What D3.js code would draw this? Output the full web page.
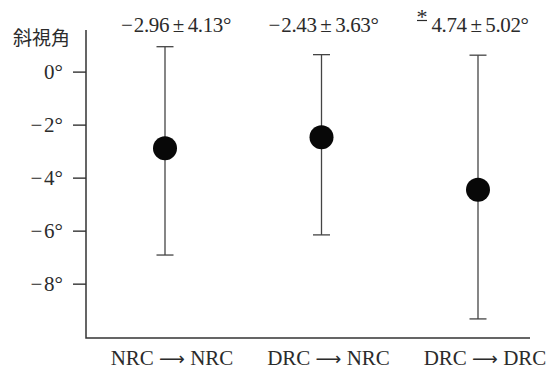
<!DOCTYPE html>
<html>
<head>
<meta charset="utf-8">
<script src="https://cdn.jsdelivr.net/npm/d3@7"></script>
<style>
  body { margin: 0; background: #fff; }
  svg text { fill: #2b2b2b; }
  .serif { font-family: "Liberation Serif", "DejaVu Serif", serif; }
</style>
</head>
<body>
<svg id="chart" width="554" height="369"></svg>
<script>
'use strict';

// groups and values
var groups = ['NRC→NRC', 'DRC→NRC', 'DRC→DRC'];
var fromLabels = ['NRC', 'DRC', 'DRC'];
var toLabels = ['NRC', 'NRC', 'DRC'];
var means = [-2.89, -2.48, -4.46];
var highs = [0.94, 0.64, 0.62];
var lows = [-6.92, -6.16, -9.33];
var meanText = ['\u2212\u200a2.96', '\u2212\u200a2.43', '4.74'];
var sdText = ['4.13', '3.63', '5.02'];
var significant = [false, false, true];
var yTicks = [0, -2, -4, -6, -8];

var svg = d3.select('#chart');
var axisLeftX = 86, axisBottomY = 338, axisTopY = 30, axisRightX = 530;
// horizontal nudge of the value labels above each bar
var labelShift = [11, 2, 2];

var y = d3.scaleLinear()
    .domain([-10.05, 1.57])
    .range([axisBottomY, axisTopY]);

var x = d3.scalePoint()
    .domain(groups)
    .range([165, 478]);

// y axis
var yAxis = d3.axisLeft(y)
    .tickValues(yTicks)
    .tickSize(13)
    .tickPadding(10)
    .tickFormat(function(d) { return (d < 0 ? '\u2212\u200a' : '') + Math.abs(d) + '\u00b0'; });

var gy = svg.append('g')
    .attr('transform', 'translate(' + axisLeftX + ',0)')
    .call(yAxis);
gy.select('.domain').remove();
gy.selectAll('line').attr('stroke', '#333').attr('stroke-width', 1.4);
gy.selectAll('text')
    .attr('class', 'serif')
    .attr('font-size', 21)
    .attr('fill', '#2b2b2b');

// frame: left and bottom axis lines
svg.append('path')
    .attr('d', 'M' + axisLeftX + ',' + axisTopY + 'V' + axisBottomY + 'H' + axisRightX)
    .attr('fill', 'none')
    .attr('stroke', '#333')
    .attr('stroke-width', 1.5);

svg.append('text')
    .attr('x', 13)
    .attr('y', 45)
    .attr('font-family', '"Noto Sans CJK JP", sans-serif')
    .attr('font-size', 19)
    .text('斜視角');

// error bars
var bars = svg.append('g').selectAll('g')
    .data(groups)
  .enter()
  .append('g')
    .attr('stroke', '#444')
    .attr('stroke-width', 1.3);

bars.append('line')
    .attr('x1', function(d) { return x(d); })
    .attr('x2', function(d) { return x(d); })
    .attr('y1', function(d, i) { return y(highs[i]); })
    .attr('y2', function(d, i) { return y(lows[i]); });

[highs, lows].forEach(function(arr) {
  bars.append('line')
      .attr('x1', function(d) { return x(d) - 8.5; })
      .attr('x2', function(d) { return x(d) + 8.5; })
      .attr('y1', function(d, i) { return y(arr[i]); })
      .attr('y2', function(d, i) { return y(arr[i]); });
});

// mean points
svg.append('g').selectAll('circle')
    .data(groups)
  .enter()
  .append('circle')
    .attr('cx', function(d) { return x(d); })
    .attr('cy', function(d, i) { return y(means[i]); })
    .attr('r', 12)
    .attr('fill', '#080808');

// mean ± sd labels
svg.append('g').selectAll('text')
    .data(groups)
  .enter()
  .append('text')
    .attr('class', 'serif')
    .attr('font-size', 21)
    .attr('letter-spacing', -0.4)
    .attr('text-anchor', 'middle')
    .attr('x', function(d, i) { return x(d) + labelShift[i]; })
    .attr('y', 32)
    .text(function(d, i) { return meanText[i] + '\u2009\u00b1\u2009' + sdText[i] + '\u00b0'; });

// asterisk over the minus sign for the significant group
groups.forEach(function(g, i) {
  if (!significant[i]) return;
  var gx = x(g) - 56;
  svg.append('text')
      .attr('class', 'serif')
      .attr('font-size', 22)
      .attr('text-anchor', 'middle')
      .attr('x', gx)
      .attr('y', 24)
      .text('*');
  svg.append('line')
      .attr('x1', gx - 5).attr('x2', gx + 5)
      .attr('y1', 20.5).attr('y2', 20.5)
      .attr('stroke', '#2b2b2b')
      .attr('stroke-width', 1.2);
});

// x labels
var xl = svg.append('g').selectAll('text')
    .data(groups)
  .enter()
  .append('text')
    .attr('class', 'serif')
    .attr('font-size', 21)
    .attr('text-anchor', 'middle')
    .attr('x', function(d) { return x(d) + 7; })
    .attr('y', 365);
xl.append('tspan').text(function(d, i) { return fromLabels[i] + ' '; });
xl.append('tspan')
    .attr('font-family', '"DejaVu Sans", sans-serif')
    .attr('font-size', 18)
    .text('\u27f6');
xl.append('tspan').text(function(d, i) { return ' ' + toLabels[i]; });
</script>
</body>
</html>
